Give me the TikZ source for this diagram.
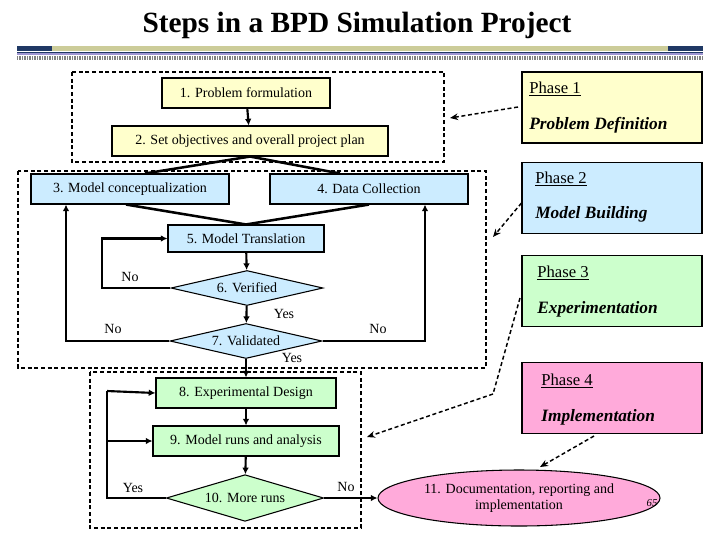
\documentclass[tikz,border=0pt]{standalone}
\usepackage{fontspec}
\setmainfont{Liberation Serif}
\usetikzlibrary{shapes.geometric,arrows.meta}
\definecolor{yel}{RGB}{255,255,204}
\definecolor{blu}{RGB}{204,236,255}
\definecolor{grn}{RGB}{204,255,204}
\definecolor{pnk}{RGB}{255,170,218}
\definecolor{navy}{RGB}{31,56,100}
\definecolor{tan}{RGB}{204,204,153}
\definecolor{lav}{RGB}{160,150,210}
\begin{document}
\begin{tikzpicture}[x=0.75pt,y=-0.75pt,
  every node/.style={font=\fontsize{10.5}{12.5}\selectfont},
  box/.style={draw,line width=0.8pt,minimum height=22.5pt,inner sep=1pt},
  dia/.style={draw,diamond,line width=0.8pt,inner sep=0pt,aspect=4},
  flow/.style={line width=1.9pt},
  arr/.style={line width=1.6pt,-{Latex[length=5pt,width=5pt]}},
  grp/.style={dashed,line width=1.1pt,dash pattern=on 3pt off 2pt},
  ptr/.style={line width=1.1pt,dash pattern=on 3pt off 2pt,-{Stealth[length=6pt,width=5pt]}},
  phase/.style={draw,line width=0.8pt,minimum width=135pt,minimum height=53.25pt},
  ph/.style={anchor=west,font=\fontsize{12.5}{14}\selectfont,inner sep=0pt},
  phb/.style={anchor=west,font=\fontsize{13}{15}\selectfont\bfseries\itshape,inner sep=0pt},
  lbl/.style={inner sep=0pt}]
\useasboundingbox (0,0) rectangle (720,540);
% header
\node[font=\fontsize{22}{25}\selectfont\bfseries,inner sep=0pt] (title) at (357,25) {Steps in a BPD Simulation Project};
\fill[navy] (17,46) rectangle (52,51);
\fill[tan] (52,46) rectangle (668,51);
\fill[navy] (668,46) rectangle (703,51);
\fill[lav] (17,52.5) rectangle (703,55);
\draw[navy,line width=0.4pt] (17,52) -- (703,52);
\draw[gray,line width=3pt,dash pattern=on 0.75pt off 0.5pt] (17,58) -- (703,58);
% groups
\draw[grp] (72,72) rectangle (444,162);
\draw[grp] (18,171) rectangle (486,368);
\draw[grp] (90,372) rectangle (361,528);
% nodes
\node[box,fill=yel,minimum width=126pt] (n1) at (246,93) {1. Problem formulation};
\node[box,fill=yel,minimum width=207pt] (n2) at (250,141) {2. Set objectives and overall project plan};
\node[box,fill=blu,minimum width=148.5pt] (n3) at (130,189) {3. Model conceptualization};
\node[box,fill=blu,minimum width=148.5pt] (n4) at (369,189) {4. Data Collection};
\node[box,fill=blu,minimum width=117pt,minimum height=20.25pt] (n5) at (246,238.5) {5. Model Translation};
\node[dia,fill=blu,minimum width=114pt,minimum height=26.25pt] (n6) at (247,288) {6. Verified};
\node[dia,fill=blu,minimum width=114pt,minimum height=26.25pt] (n7) at (246,341) {7. Validated};
\node[box,fill=grn,minimum width=135pt] (n8) at (246,393) {8. Experimental Design};
\node[box,fill=grn,minimum width=139.5pt] (n9) at (246,441) {9. Model runs and analysis};
\node[dia,fill=grn,minimum width=118pt,minimum height=35pt] (n10) at (245,498) {10. More runs};
\node[draw,ellipse,fill=pnk,line width=0.8pt,minimum width=211.5pt,minimum height=42pt,inner sep=0pt,align=center] (n11) at (519,498) {11. Documentation, reporting and\\implementation};
\node[lbl,font=\fontsize{8}{9}\selectfont\itshape] (pg) at (652,503) {65};
% phases
\node[phase,fill=yel] (p1) at (612,107.5) {};
\node[phase,fill=blu] (p2) at (612,198) {};
\node[phase,fill=grn] (p3) at (612,291) {};
\node[phase,fill=pnk] (p4) at (612,398) {};
\node[ph] (t1) at (529,89) {\underline{Phase 1}};
\node[phb] (b1) at (529,125) {Problem Definition};
\node[ph] (t2) at (535,179) {\underline{Phase 2}};
\node[phb] (b2) at (535,214) {Model Building};
\node[ph] (t3) at (537,273) {\underline{Phase 3}};
\node[phb] (b3) at (537,309) {Experimentation};
\node[ph] (t4) at (541,381) {\underline{Phase 4}};
\node[phb] (b4) at (541,417) {Implementation};
% labels
\node[lbl] (l1) at (130,277) {No};
\node[lbl] (l2) at (113,329) {No};
\node[lbl] (l3) at (378,329) {No};
\node[lbl] (l4) at (284,314) {Yes};
\node[lbl] (l5) at (292,358) {Yes};
\node[lbl] (l6) at (133,488) {Yes};
\node[lbl] (l7) at (346,487) {No};
% flow
\draw[arr] (n1) -- (n2);
\draw[flow] (n2.south) -- ([xshift=0.75pt*15]n3.north);
\draw[flow] (n2.south) -- ([xshift=-0.75pt*29]n4.north);
\draw[flow] ([xshift=-0.75pt*4]n3.south) -- (n5.north);
\draw[flow] (n4.south) -- (n5.north);
\draw[arr] (n5) -- (n6);
\draw[arr] (n6) -- (n7);
\draw[flow,-{Latex[length=5pt,width=5pt]}] (n6.west) -| (102,288) |- (n5.west);
\draw[flow,-{Latex[length=5pt,width=5pt]}] (n7.west) -| ([xshift=-0.75pt*64]n3.south);
\draw[flow,-{Latex[length=5pt,width=5pt]}] (n7.east) -| ([xshift=0.75pt*56]n4.south);
\draw[arr] (n7) -- (n8);
\draw[arr] (n8) -- (n9);
\draw[arr] (n9) -- (n10);
\draw[flow] (n10.west) -| (107,391);
\draw[arr] (107,391) -- (n8.west);
\draw[arr] (107,441) -- (n9.west);
\draw[arr] (n10.east) -- (n11.west);
% pointers
\coordinate (k3) at (493,394);
\draw[ptr] (518,107) -- (450,118);
\draw[ptr] (p2.west) ++(0,5) -- (493,237);
\draw[line width=1.1pt,dash pattern=on 3pt off 2pt] (520,298) -- (k3);
\draw[ptr] (k3) -- (367,437);
\draw[ptr] (594,436) -- (540,467);
\end{tikzpicture}
\end{document}
